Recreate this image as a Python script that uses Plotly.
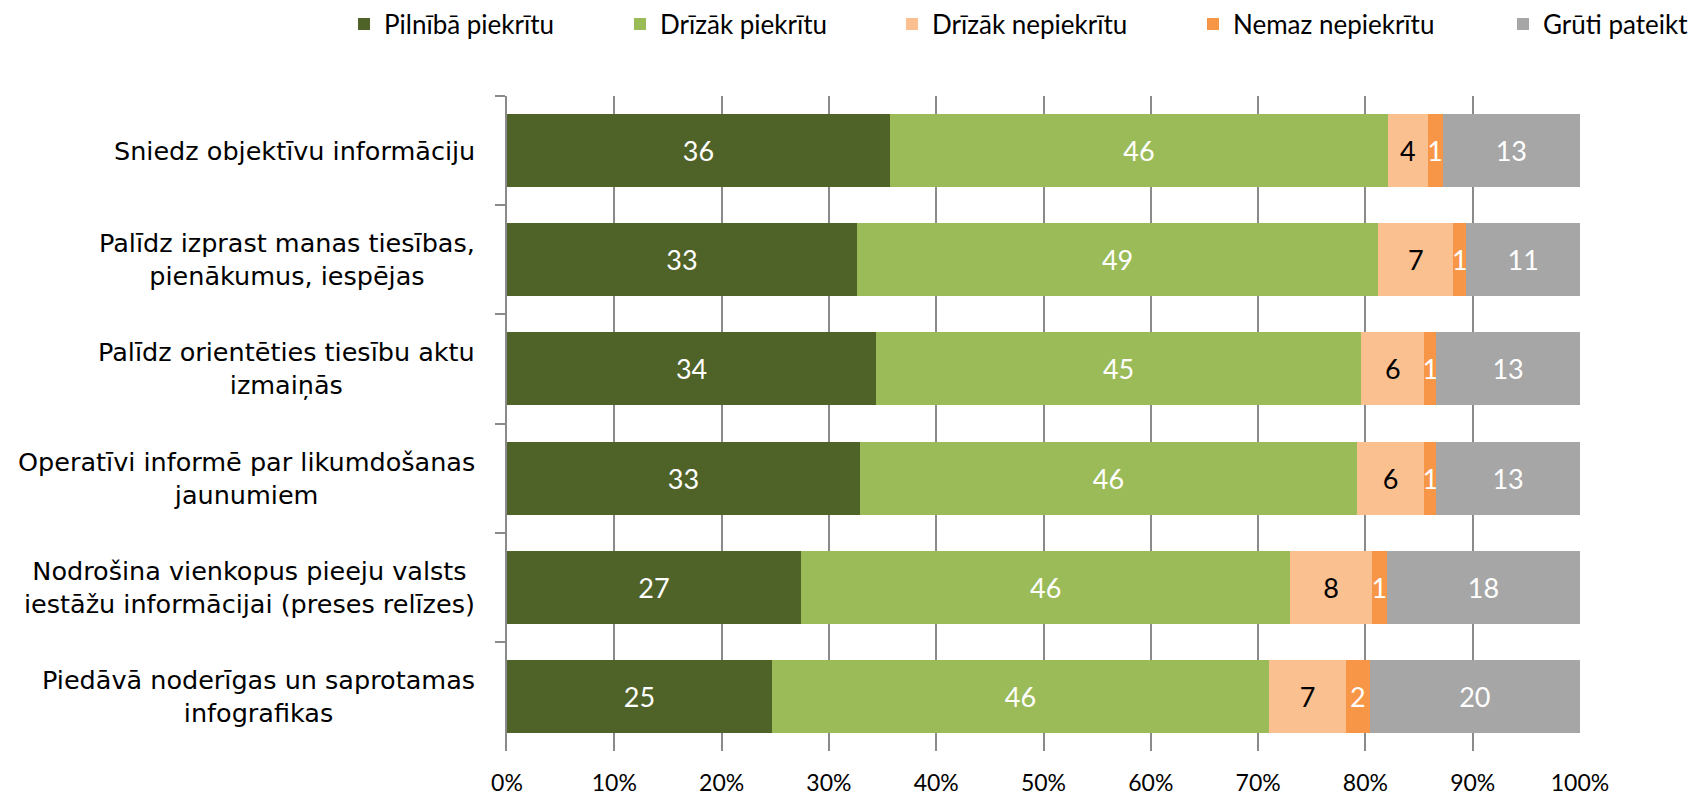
import plotly.graph_objects as go

categories = [
    "Sniedz objektīvu informāciju",
    "Palīdz izprast manas tiesības,<br>pienākumus, iespējas",
    "Palīdz orientēties tiesību aktu<br>izmaiņās",
    "Operatīvi informē par likumdošanas<br>jaunumiem",
    "Nodrošina vienkopus pieeju valsts<br>iestāžu informācijai (preses relīzes)",
    "Piedāvā noderīgas un saprotamas<br>infografikas",
]
series_names = ["Pilnībā piekrītu", "Drīzāk piekrītu", "Drīzāk nepiekrītu", "Nemaz nepiekrītu", "Grūti pateikt"]
pilniba_piekritu = [35.7, 32.6, 34.4, 32.9, 27.4, 24.7]
drizak_piekritu = [46.4, 48.6, 45.2, 46.3, 45.6, 46.3]
drizak_nepiekritu = [3.7, 7.0, 5.9, 6.3, 7.6, 7.2]
nemaz_nepiekritu = [1.4, 1.2, 1.1, 1.1, 1.4, 2.2]
gruti_pateikt = [12.8, 10.6, 13.4, 13.4, 18.0, 19.6]
x_ticks = [0, 10, 20, 30, 40, 50, 60, 70, 80, 90, 100]
x_tick_labels = ["0%", "10%", "20%", "30%", "40%", "50%", "60%", "70%", "80%", "90%", "100%"]

series_values = [pilniba_piekritu, drizak_piekritu, drizak_nepiekritu, nemaz_nepiekritu, gruti_pateikt]
colors = ["#4F6228", "#9BBB59", "#FAC090", "#F79646", "#A6A6A6"]
text_colors = ["white", "white", "black", "white", "white"]
legend_text_left = [384, 660, 932, 1233, 1543]

W, H = 1697, 797
AXIS_GRAY = "#8a8a8a"

fig = go.Figure()
for i, (name, vals) in enumerate(zip(series_names, series_values)):
    fig.add_trace(go.Bar(
        name=name,
        y=categories,
        x=vals,
        orientation="h",
        marker=dict(color=colors[i], line=dict(width=0)),
        texttemplate="%{x:.0f}",
        textposition="inside",
        insidetextanchor="middle",
        textangle=0,
        constraintext="none",
        textfont=dict(family="Lato", size=27, color=text_colors[i]),
        legend="legend" if i == 0 else f"legend{i+1}",
        hoverinfo="skip",
    ))

layout = dict(
    width=W, height=H,
    paper_bgcolor="white", plot_bgcolor="white",
    barmode="stack", bargap=0.33,
    margin=dict(l=507, r=117, t=96, b=46, autoexpand=False),
    xaxis=dict(
        range=[0, 100], tickvals=x_ticks, ticktext=x_tick_labels,
        showgrid=True, gridcolor=AXIS_GRAY, gridwidth=1.5,
        zeroline=False, showline=False, ticks="",
        ticklabelstandoff=16,
        tickfont=dict(family="Lato", size=23, color="black"),
    ),
    xaxis2=dict(
        overlaying="x", side="top", anchor="y",
        range=[0, 100], tickvals=x_ticks,
        showticklabels=False, showgrid=False, zeroline=False,
        showline=True, linecolor=AXIS_GRAY, linewidth=1.5,
        ticks="outside", ticklen=8, tickcolor=AXIS_GRAY, tickwidth=1.5,
    ),
    yaxis=dict(
        type="category", autorange="reversed",
        showticklabels=False, tickson="boundaries",
        ticks="outside", ticklen=10, tickcolor=AXIS_GRAY, tickwidth=1.5,
        showline=True, linecolor=AXIS_GRAY, linewidth=1.5,
        showgrid=False, zeroline=False,
    ),
    showlegend=True,
    annotations=[
        dict(
            text=c, xref="paper", x=0, xshift=-30, xanchor="right",
            yref="y", y=c, yanchor="middle", align="center", showarrow=False,
            font=dict(family="DejaVu Sans", size=25.5, color="black"),
        )
        for c in categories
    ],
)
for i in range(len(series_names)):
    key = "legend" if i == 0 else f"legend{i+1}"
    layout[key] = dict(
        orientation="h", xref="container", yref="container",
        x=(legend_text_left[i] - 40) / W, xanchor="left",
        y=1 - 24 / H, yanchor="middle",
        bgcolor="rgba(0,0,0,0)", borderwidth=0,
        font=dict(family="Lato", size=26, color="black"),
    )
fig.update_layout(**layout)

fig.write_html(
    "out.html",
    config={"displayModeBar": False},
    post_script="document.body.style.margin='0';document.body.style.overflow='hidden';",
)
